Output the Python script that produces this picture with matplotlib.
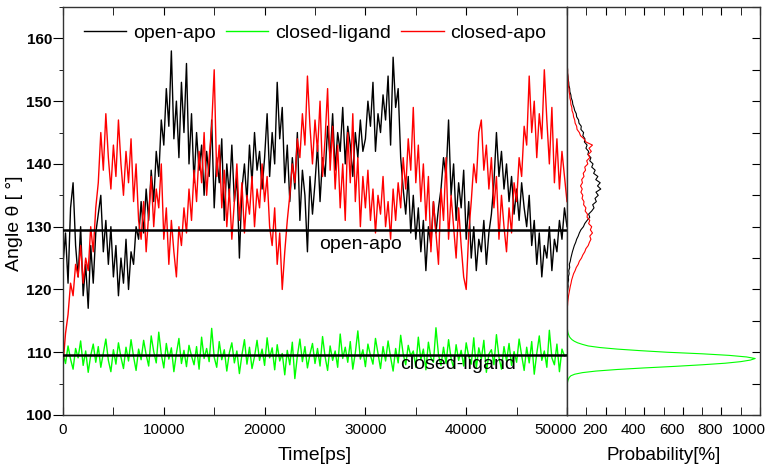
import numpy as np
import matplotlib
matplotlib.use('Agg')
import matplotlib.pyplot as plt
from matplotlib.ticker import MultipleLocator
from matplotlib.transforms import ScaledTranslation

plt.rcParams['font.family'] = ['Liberation Sans', 'DejaVu Sans']

# time axis (ps), one value every 250 ps
time_step = 250
t_start = 0

# open-apo angle (deg)
open_apo = [
    124, 129, 121, 133, 137, 127, 122, 130, 119, 124, 117, 127, 121, 129, 132, 135, 126, 131, 124, 130,
    122, 127, 119, 125, 121, 128, 120, 126, 124, 130, 128, 134, 129, 136, 131, 139, 134, 142, 138, 147,
    143, 152, 146, 158, 144, 150, 141, 153, 145, 156, 140, 148, 137, 145, 139, 143, 135, 142, 138, 147,
    133, 141, 137, 144, 131, 140, 135, 143, 134, 138, 125, 136, 140, 134, 143, 137, 145, 139, 142, 136,
    141, 148, 138, 145, 140, 153, 144, 149, 137, 143, 134, 141, 136, 145, 131, 139, 135, 126, 138, 132,
    137, 143, 134, 141, 138, 146, 141, 148, 139, 145, 142, 149, 140, 146, 143, 138, 145, 141, 147, 142,
    144, 150, 146, 153, 142, 148, 145, 151, 147, 154, 143, 157, 149, 152, 141, 136, 132, 138, 129, 135,
    128, 133, 126, 131, 123, 130, 127, 134, 129, 133, 136, 141, 138, 147, 135, 140, 131, 137, 133, 139,
    128, 134, 125, 130, 123, 128, 126, 131, 124, 129, 132, 137, 145, 138, 142, 136, 140, 134, 138, 132,
    136, 131, 137, 133, 130, 135, 127, 131, 124, 129, 122, 127, 125, 130, 123, 128, 126, 131, 128, 133,
    130,
]

# closed-ligand angle (deg)
closed_ligand = [
    109.8, 108.2, 111.0, 108.9, 107.3, 110.6, 109.1, 111.8, 107.9, 110.2, 106.8, 109.5, 111.3, 108.4, 110.9, 107.6, 109.9, 112.1, 108.7, 106.9,
    110.4, 108.1, 111.5, 109.2, 107.4, 110.8, 108.6, 112.0, 109.3, 107.1, 110.5, 108.8, 111.9, 109.6, 107.8, 112.6, 110.1, 108.3, 113.2, 109.7,
    107.5, 111.4, 108.9, 110.7, 106.9, 109.8, 112.2, 108.2, 110.3, 107.7, 111.1, 109.4, 108.0, 110.9, 107.3, 112.4, 109.0, 110.6, 108.5, 113.8,
    109.2, 107.6, 111.7, 108.8, 110.4, 107.0, 109.9, 111.5, 108.3, 110.2, 106.6, 109.6, 112.0, 108.1, 110.8, 107.4, 109.3, 111.9, 108.7, 110.5,
    107.9, 112.3, 109.1, 110.7, 107.2, 111.2, 108.6, 109.8, 106.4, 110.3, 108.0, 111.6, 105.8, 109.4, 112.1, 108.5, 110.9, 107.5, 109.7, 111.4,
    108.2, 110.6, 107.8, 112.5, 109.3, 107.1, 111.0, 108.7, 110.2, 107.6, 112.9, 109.0, 110.8, 108.4, 111.7, 107.3, 109.9, 113.4, 108.9, 110.4,
    107.7, 111.3, 109.5, 108.1, 112.2, 109.8, 107.4, 110.9, 108.6, 111.8, 109.2, 107.0, 110.6, 108.3, 112.7, 109.7, 108.0, 111.1, 109.4, 110.2,
    107.6, 112.4, 108.8, 110.5, 107.2, 111.6, 109.1, 108.4, 113.9, 109.6, 107.9, 110.8, 108.2, 112.0, 109.0, 107.5, 111.2, 108.7, 110.3, 107.8,
    111.5, 109.3, 108.1, 112.3, 107.4, 110.7, 108.9, 111.9, 106.8, 109.7, 110.4, 108.0, 112.8, 109.2, 107.3, 110.9, 108.6, 111.4, 107.9, 110.1,
    108.4, 112.1, 109.5, 107.1, 110.8, 108.3, 111.7, 106.5, 109.8, 112.6, 108.7, 110.2, 107.6, 113.5, 109.1, 108.0, 111.3, 106.9, 110.5, 109.4,
    109.6,
]

# closed-apo angle (deg)
closed_apo = [
    108, 113, 116, 121, 119, 124, 122, 127, 121, 125, 123, 130, 126, 133, 137, 145, 139, 148, 141, 136,
    143, 138, 147, 140, 135, 142, 137, 144, 134, 140, 131, 128, 134, 126, 132, 138, 130, 136, 133, 140,
    128, 133, 124, 131, 126, 122, 130, 127, 133, 129, 136, 131, 139, 134, 142, 137, 145, 135, 141, 146,
    155, 138, 143, 133, 139, 130, 136, 128, 134, 140, 131, 137, 129, 135, 132, 138, 130, 136, 133, 140,
    134, 138, 130, 127, 133, 124, 129, 120, 126, 131, 135, 140, 137, 144, 141, 148, 143, 154, 146, 140,
    147, 142, 150, 138, 144, 152, 139, 146, 136, 143, 133, 140, 131, 145, 137, 148, 134, 141, 130, 138,
    133, 139, 131, 136, 129, 135, 132, 138, 130, 134, 128, 136, 131, 137, 133, 141, 136, 144, 139, 149,
    137, 143, 134, 140, 131, 138, 126, 134, 129, 124, 136, 131, 141, 128, 135, 130, 125, 133, 127, 122,
    120, 129, 134, 140, 137, 145, 147, 139, 143, 136, 141, 133, 138, 128, 135, 130, 126, 133, 129, 137,
    134, 141, 138, 146, 143, 154, 145, 150, 141, 148, 144, 155, 147, 140, 149, 137, 144, 136, 142, 138,
    134,
]

mean_open = 129.5
mean_ligand = 109.5

# angle distributions: bins of 0.5 deg from 115 to 158
hist_start, hist_step = 115.0, 0.5
open_apo_prob = [
    0, 0, 0, 1, 0, 1, 2, 1, 3, 2,
    4, 6, 5, 8, 7, 11, 9, 14, 12, 17,
    20, 24, 28, 33, 38, 45, 50, 58, 64, 72,
    85, 92, 104, 118, 112, 128, 140, 133, 152, 145,
    162, 150, 175, 158, 172, 149, 160, 138, 146, 128,
    135, 118, 124, 108, 112, 98, 104, 90, 93, 82,
    86, 72, 74, 62, 60, 50, 48, 40, 36, 30,
    28, 22, 20, 15, 14, 10, 9, 6, 5, 3,
    3, 2, 1, 1, 0, 0,
    0,
]
closed_apo_prob = [
    0, 1, 0, 2, 1, 3, 4, 6, 8, 11,
    14, 17, 21, 24, 29, 34, 42, 48, 58, 64,
    75, 82, 92, 98, 110, 116, 124, 118, 132, 121,
    128, 112, 118, 104, 106, 94, 98, 86, 88, 78,
    82, 72, 79, 70, 80, 76, 88, 84, 96, 92,
    108, 102, 118, 110, 126, 114, 132, 98, 88, 70,
    64, 52, 50, 42, 40, 34, 32, 26, 25, 20,
    19, 15, 14, 11, 10, 7, 7, 5, 4, 3,
    3, 2, 1, 1, 1, 0,
    0,
]
# closed-ligand: bins of 0.25 deg from 104 to 116
lig_start, lig_step = 104.0, 0.25
closed_ligand_prob = [
    0, 0, 1, 1,
    2, 3, 5, 8,
    12, 20, 40, 80,
    150, 260, 400, 560,
    700, 820, 900, 950,
    975, 930, 840, 700,
    518, 380, 260, 170,
    110, 80, 55, 38,
    26, 18, 12, 9,
    6, 4, 3, 2,
    1, 1, 0, 0,
    0, 0, 0, 0,
    0,
]

time_ticks = [0, 10000, 20000, 30000, 40000, 50000]
prob_ticks = [0, 200, 400, 600, 800, 1000]
# the "0" of this panel is hidden under the "50000" of the time axis
prob_ticklabels = ['', '200', '400', '600', '800', '1000']

t = t_start + time_step * np.arange(len(open_apo))
ang = hist_start + hist_step * np.arange(len(open_apo_prob))
ang_lig = lig_start + lig_step * np.arange(len(closed_ligand_prob))

GREEN = '#00ff00'
fig = plt.figure(figsize=(7.83, 4.72), dpi=100)
ax = fig.add_axes([63/783, 57/472, 504/783, 408/472])
ax2 = fig.add_axes([567/783, 57/472, 193/783, 408/472])

ax.plot(t, open_apo, color='black', lw=1.0, label='open-apo')
ax.plot(t, closed_ligand, color=GREEN, lw=1.0, label='closed-ligand')
ax.plot(t, closed_apo, color='red', lw=1.0, label='closed-apo')
ax.axhline(mean_open, color='black', lw=1.8, zorder=5)
ax.axhline(mean_ligand, color='black', lw=1.8, zorder=5)
ax.text(29500, 127.2, 'open-apo', fontsize=14, ha='center', va='center', zorder=6)
ax.text(39200, 108.0, 'closed-ligand', fontsize=14, ha='center', va='center', zorder=6)

ax.set_xlim(0, 50000)
ax.set_ylim(100, 165)
ax.set_xticks(time_ticks)
ax.xaxis.set_minor_locator(MultipleLocator(5000))
ax.yaxis.set_major_locator(MultipleLocator(10))
ax.yaxis.set_minor_locator(MultipleLocator(5))
ax.tick_params(axis='x', which='both', direction='in', top=True, length=6, labelsize=11, pad=6)
ax.tick_params(axis='y', which='major', direction='out', length=7, labelsize=11, pad=1)
ax.tick_params(axis='y', which='minor', direction='out', length=3)
for lab in ax.get_yticklabels():
    lab.set_fontweight('bold')
ax.set_xlabel('Time[ps]', fontsize=14, labelpad=7)
ax.set_ylabel('Angle θ [ °]', fontsize=14)
ax.yaxis.set_label_coords(-0.08, 0.47)
leg = ax.legend(loc='upper center', bbox_to_anchor=(0.5, 1.0), ncol=3, frameon=False,
                fontsize=14, handlelength=2.2, handletextpad=0.35, columnspacing=0.5)
for h in leg.get_lines():
    h.set_linewidth(1.0)

ax2.plot(open_apo_prob, ang, color='black', lw=0.8)
ax2.plot(closed_apo_prob, ang, color='red', lw=0.8)
ax2.plot(closed_ligand_prob, ang_lig, color=GREEN, lw=0.8)
ax2.set_xlim(0, 1000)
ax2.set_ylim(100, 165)
ax2.set_xticks(prob_ticks)
ax2.set_xticklabels(prob_ticklabels)
ax2.xaxis.set_minor_locator(MultipleLocator(100))
ax2.yaxis.set_major_locator(MultipleLocator(5))
ax2.tick_params(axis='x', which='both', direction='in', top=True, length=6, labelsize=11, pad=6)
ax2.tick_params(axis='y', which='both', direction='in', left=False, right=True,
                labelleft=False, length=6)
ax2.set_xlabel('Probability[%]', fontsize=13.5, labelpad=7)

# tick labels at the right end sit a little left of their ticks, as in the original
shift = ScaledTranslation(-11/100, 0, fig.dpi_scale_trans)
for lab in ax2.get_xticklabels():
    lab.set_transform(lab.get_transform() + shift)
last = ax.get_xticklabels()[-1]
last.set_transform(last.get_transform() + shift)

for a in (ax, ax2):
    for s in a.spines.values():
        s.set_linewidth(1.0)
        s.set_color('#333333')

fig.savefig('out.png', dpi=100)
